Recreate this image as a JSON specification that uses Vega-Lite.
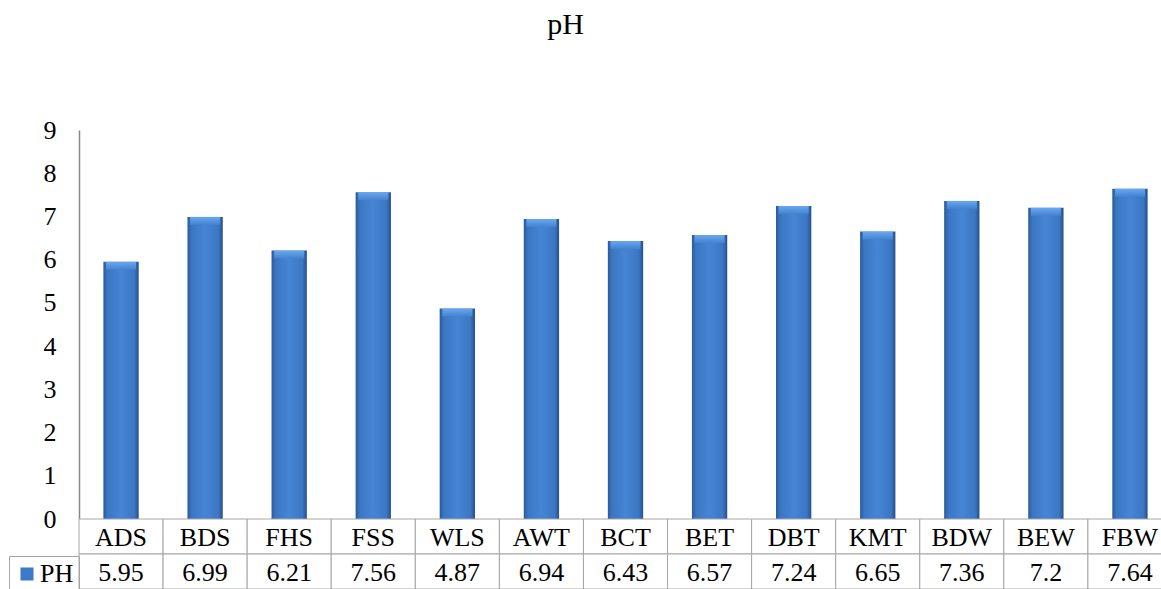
{
  "$schema": "https://vega.github.io/schema/vega-lite/v6.json",
  "padding": {"left": 8, "top": 10, "right": 0, "bottom": 0},
  "background": "white",
  "title": {"text": "pH", "fontSize": 30, "font": "Liberation Serif", "fontWeight": "normal", "color": "#000000", "anchor": "middle", "offset": 77, "dx": -25},
  "data": {"values": [
    {"site": "ADS", "pH": 5.95},
    {"site": "BDS", "pH": 6.99},
    {"site": "FHS", "pH": 6.21},
    {"site": "FSS", "pH": 7.56},
    {"site": "WLS", "pH": 4.87},
    {"site": "AWT", "pH": 6.94},
    {"site": "BCT", "pH": 6.43},
    {"site": "BET", "pH": 6.57},
    {"site": "DBT", "pH": 7.24},
    {"site": "KMT", "pH": 6.65},
    {"site": "BDW", "pH": 7.36},
    {"site": "BEW", "pH": 7.2},
    {"site": "FBW", "pH": 7.64}
  ]},
  "spacing": 0,
  "bounds": "flush",
  "resolve": {"scale": {"x": "independent", "y": "independent"}},
  "vconcat": [
    {
      "width": 1093,
      "height": 389,
      "encoding": {
        "x": {"field": "site", "type": "nominal", "sort": null, "axis": null, "scale": {"paddingInner": 0.58, "paddingOuter": 0.29}}
      },
      "layer": [
        {
          "mark": {"type": "bar", "fill": {"gradient": "linear", "x1": 0, "x2": 1, "y1": 0, "y2": 0, "stops": [
            {"offset": 0, "color": "#2b5a9a"},
            {"offset": 0.12, "color": "#3b76c2"},
            {"offset": 0.5, "color": "#4685d4"},
            {"offset": 0.88, "color": "#3b76c2"},
            {"offset": 1, "color": "#264f88"}]}},
          "encoding": {
            "y": {"field": "pH", "type": "quantitative", "scale": {"domain": [0, 9]},
                  "axis": {"title": null, "values": [0,1,2,3,4,5,6,7,8,9], "grid": false, "ticks": false, "domainColor": "#888888", "domainWidth": 1.5, "labelFont": "Liberation Serif", "labelFontSize": 26, "labelColor": "#000000", "labelPadding": 23}}
          }
        },
        {
          "mark": {"type": "tick", "orient": "horizontal", "thickness": 8, "size": 30, "yOffset": 4, "fill": {"gradient": "linear", "x1": 0, "x2": 0, "y1": 0, "y2": 1, "stops": [
            {"offset": 0, "color": "#6aa8ee"},
            {"offset": 1, "color": "#4282d0"}]}, "opacity": 1},
          "encoding": {
            "y": {"field": "pH", "type": "quantitative"}
          }
        },
        {
          "mark": {"type": "bar"},
          "encoding": {
            "y": {"datum": 0, "type": "quantitative"},
            "color": {"datum": "PH", "type": "nominal",
              "scale": {"domain": ["PH"], "range": ["#3d7bc8"]},
              "legend": {"title": null, "orient": "none", "legendX": -70, "legendY": 426, "symbolType": "square", "symbolSize": 170, "symbolStrokeWidth": 0, "labelFont": "Liberation Serif", "labelFontSize": 26, "labelColor": "#000000", "labelOffset": 0, "labelExpr": "datum.label + '\u00a0'", "strokeColor": "#a6a6a6", "padding": 5}
            }
          }
        }
      ]
    },
    {
      "width": 1093,
      "height": 70,
      "layer": [
        {
          "mark": {"type": "rect", "fill": "white", "stroke": "#a6a6a6", "strokeWidth": 1},
          "encoding": {
            "x": {"field": "site", "type": "nominal", "sort": null, "axis": null, "scale": {"paddingInner": 0, "paddingOuter": 0}},
            "y": {"datum": "c", "type": "nominal", "axis": null, "scale": {"domain": ["c", "v"], "paddingInner": 0, "paddingOuter": 0}}
          }
        },
        {
          "mark": {"type": "rect", "fill": "white", "stroke": "#a6a6a6", "strokeWidth": 1},
          "encoding": {
            "x": {"field": "site", "type": "nominal", "sort": null, "axis": null},
            "y": {"datum": "v", "type": "nominal", "axis": null}
          }
        },
        {
          "mark": {"type": "text", "font": "Liberation Serif", "fontSize": 26, "color": "#000000", "dy": 1},
          "encoding": {
            "x": {"field": "site", "type": "nominal", "sort": null, "axis": null},
            "y": {"datum": "c", "type": "nominal", "axis": null},
            "text": {"field": "site", "type": "nominal"}
          }
        },
        {
          "mark": {"type": "text", "font": "Liberation Serif", "fontSize": 26, "color": "#000000", "dy": 1},
          "encoding": {
            "x": {"field": "site", "type": "nominal", "sort": null, "axis": null},
            "y": {"datum": "v", "type": "nominal", "axis": null},
            "text": {"field": "pH", "type": "nominal"}
          }
        }
      ]
    }
  ],
  "config": {"view": {"stroke": null}, "font": "Liberation Serif"}
}
